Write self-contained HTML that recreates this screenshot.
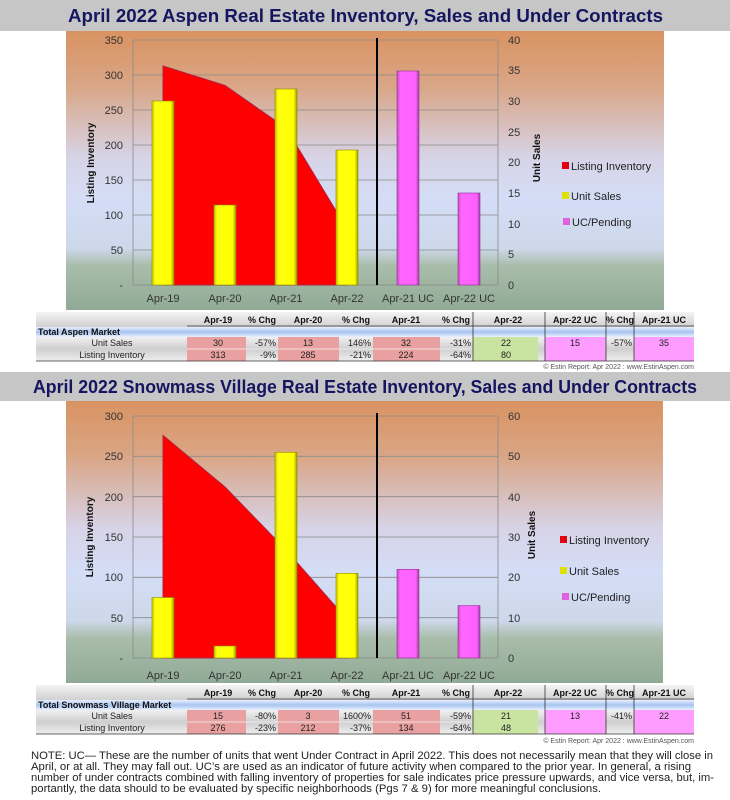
<!DOCTYPE html>
<html><head><meta charset="utf-8"><style>
body{margin:0;background:#fff;}
svg{display:block;font-family:"Liberation Sans",sans-serif;}
</style></head><body>
<svg width="730" height="800" viewBox="0 0 730 800" xmlns="http://www.w3.org/2000/svg">
<defs>
<linearGradient id="bg" x1="0" y1="0" x2="0" y2="1">
<stop offset="0" stop-color="#d99361"/><stop offset="0.2" stop-color="#d9a687"/><stop offset="0.45" stop-color="#d7d3e6"/><stop offset="0.6" stop-color="#d4ddf6"/><stop offset="0.78" stop-color="#cdd8ea"/><stop offset="0.84" stop-color="#a9bdaa"/><stop offset="1" stop-color="#90aa96"/>
</linearGradient>
<linearGradient id="yel" x1="0" y1="0" x2="1" y2="0"><stop offset="0" stop-color="#c8c800"/><stop offset="0.15" stop-color="#ffff10"/><stop offset="0.85" stop-color="#ffff00"/><stop offset="1" stop-color="#9a9a00"/></linearGradient>
<linearGradient id="pnk" x1="0" y1="0" x2="1" y2="0"><stop offset="0" stop-color="#c050c0"/><stop offset="0.15" stop-color="#ff66ff"/><stop offset="0.85" stop-color="#ff60ff"/><stop offset="1" stop-color="#a040a0"/></linearGradient>
<linearGradient id="hdr" x1="0" y1="0" x2="0" y2="1"><stop offset="0" stop-color="#f4f4f4"/><stop offset="1" stop-color="#d0d0d0"/></linearGradient>
<linearGradient id="blu" x1="0" y1="0" x2="0" y2="1"><stop offset="0" stop-color="#e8f0ff"/><stop offset="0.5" stop-color="#a8c4ee"/><stop offset="1" stop-color="#e8f0ff"/></linearGradient>
<linearGradient id="gry" x1="0" y1="0" x2="0" y2="1"><stop offset="0" stop-color="#f0f0f0"/><stop offset="0.5" stop-color="#cfcfcf"/><stop offset="1" stop-color="#eeeeee"/></linearGradient>
</defs>

<!-- ===== Chart 1 ===== -->
<rect x="0" y="0" width="730" height="31" fill="#c6c6c6"/>
<text x="68" y="22" textLength="595" lengthAdjust="spacingAndGlyphs" font-size="18" font-weight="bold" fill="#151560">April 2022 Aspen Real Estate Inventory, Sales and Under Contracts</text>
<rect x="66" y="31" width="598" height="279" fill="url(#bg)"/>
<g stroke="#8a8a8a" stroke-width="0.8">
<line x1="133" y1="40" x2="498" y2="40"/><line x1="133" y1="75" x2="498" y2="75"/><line x1="133" y1="110" x2="498" y2="110"/><line x1="133" y1="145" x2="498" y2="145"/><line x1="133" y1="180" x2="498" y2="180"/><line x1="133" y1="215" x2="498" y2="215"/><line x1="133" y1="250" x2="498" y2="250"/>
<line x1="133" y1="40" x2="133" y2="285"/><line x1="498" y1="40" x2="498" y2="285"/><line x1="133" y1="285" x2="498" y2="285"/>
</g>
<polygon points="163,66 225,85.5 286,128 347,229 347,285 163,285" fill="#ff0000" stroke="#b02040" stroke-width="1"/>
<g fill="url(#yel)" stroke="#8a8a00" stroke-width="0.6">
<rect x="152" y="101" width="22" height="184"/><rect x="214" y="205" width="22" height="80"/><rect x="275" y="89" width="22" height="196"/><rect x="336" y="150" width="22" height="135"/>
</g>
<g fill="url(#pnk)" stroke="#903090" stroke-width="0.6">
<rect x="397" y="71" width="22" height="214"/><rect x="458" y="193" width="22" height="92"/>
</g>
<line x1="377" y1="38" x2="377" y2="285" stroke="#000" stroke-width="2"/>
<g font-size="11" fill="#333" text-anchor="end">
<text x="123" y="44">350</text><text x="123" y="79">300</text><text x="123" y="114">250</text><text x="123" y="149">200</text><text x="123" y="184">150</text><text x="123" y="219">100</text><text x="123" y="254">50</text><text x="123" y="289">-</text>
</g>
<g font-size="11" fill="#333">
<text x="508" y="44">40</text><text x="508" y="74">35</text><text x="508" y="105">30</text><text x="508" y="136">25</text><text x="508" y="166">20</text><text x="508" y="197">15</text><text x="508" y="228">10</text><text x="508" y="258">5</text><text x="508" y="289">0</text>
</g>
<g font-size="11" fill="#333" text-anchor="middle">
<text x="163" y="302">Apr-19</text><text x="225" y="302">Apr-20</text><text x="286" y="302">Apr-21</text><text x="347" y="302">Apr-22</text><text x="408" y="302">Apr-21 UC</text><text x="469" y="302">Apr-22 UC</text>
</g>
<text transform="translate(94,163) rotate(-90)" font-size="10" font-weight="bold" text-anchor="middle" fill="#111">Listing Inventory</text>
<text transform="translate(540,158) rotate(-90)" font-size="10" font-weight="bold" text-anchor="middle" fill="#111">Unit Sales</text>
<g font-size="11" fill="#222">
<rect x="562" y="162" width="7" height="7" fill="#e00010"/><text x="571" y="170">Listing Inventory</text>
<rect x="562" y="192" width="7" height="7" fill="#e0e000"/><text x="571" y="200">Unit Sales</text>
<rect x="563" y="218" width="7" height="7" fill="#e060e0"/><text x="572" y="226">UC/Pending</text>
</g>

<!-- Table 1 -->
<g font-size="9" font-family="Liberation Sans Narrow,Liberation Sans,sans-serif">
<rect x="36" y="312" width="658" height="15" fill="url(#hdr)"/>
<line x1="187" y1="326" x2="694" y2="326" stroke="#333" stroke-width="0.8"/>
<rect x="36" y="327" width="658" height="10" fill="url(#blu)"/>
<rect x="36" y="337" width="658" height="24" fill="url(#gry)"/>
<rect x="187" y="337" width="59" height="24" fill="#e8a0a0"/><rect x="278" y="337" width="61" height="24" fill="#e8a0a0"/><rect x="373" y="337" width="67" height="24" fill="#e8a0a0"/>
<rect x="473" y="337" width="65" height="24" fill="#c8e4a0"/>
<rect x="545" y="337" width="61" height="24" fill="#ff9cff"/><rect x="634" y="337" width="60" height="24" fill="#ff9cff"/>
<line x1="187" y1="349" x2="473" y2="349" stroke="#f4f4f4" stroke-width="0.8"/>
<g stroke="#333" stroke-width="0.8"><line x1="473" y1="312" x2="473" y2="361"/><line x1="545" y1="312" x2="545" y2="361"/><line x1="606" y1="312" x2="606" y2="361"/><line x1="634" y1="312" x2="634" y2="361"/><line x1="36" y1="361" x2="694" y2="361"/></g>
<g font-weight="bold" fill="#111" text-anchor="middle">
<text x="218" y="323">Apr-19</text><text x="262" y="323">% Chg</text><text x="308" y="323">Apr-20</text><text x="356" y="323">% Chg</text><text x="406" y="323">Apr-21</text><text x="456" y="323">% Chg</text><text x="508" y="323">Apr-22</text><text x="575" y="323">Apr-22 UC</text><text x="620" y="323">% Chg</text><text x="664" y="323">Apr-21 UC</text>
</g>
<text x="38" y="335" font-weight="bold" fill="#111">Total Aspen Market</text>
<g fill="#222" text-anchor="middle">
<text x="112" y="346">Unit Sales</text><text x="112" y="358">Listing Inventory</text>
<text x="218" y="346">30</text><text x="308" y="346">13</text><text x="406" y="346">32</text><text x="506" y="346">22</text><text x="575" y="346">15</text><text x="664" y="346">35</text>
<text x="218" y="358">313</text><text x="308" y="358">285</text><text x="406" y="358">224</text><text x="506" y="358">80</text>
</g>
<g fill="#222" text-anchor="end">
<text x="276" y="346">-57%</text><text x="371" y="346">146%</text><text x="471" y="346">-31%</text><text x="632" y="346">-57%</text>
<text x="276" y="358">-9%</text><text x="371" y="358">-21%</text><text x="471" y="358">-64%</text>
</g>
<text x="694" y="369" font-size="7" fill="#555" text-anchor="end">© Estin Report:  Apr 2022 : www.EstinAspen.com</text>
</g>

<!-- ===== Chart 2 ===== -->
<rect x="0" y="372" width="730" height="29" fill="#c6c6c6"/>
<text x="33" y="393" textLength="664" lengthAdjust="spacingAndGlyphs" font-size="18" font-weight="bold" fill="#151560">April 2022 Snowmass Village Real Estate Inventory, Sales and Under Contracts</text>
<rect x="66" y="401" width="597" height="282" fill="url(#bg)"/>
<g stroke="#8a8a8a" stroke-width="0.8">
<line x1="133" y1="416" x2="498" y2="416"/><line x1="133" y1="456.3" x2="498" y2="456.3"/><line x1="133" y1="496.7" x2="498" y2="496.7"/><line x1="133" y1="537" x2="498" y2="537"/><line x1="133" y1="577.3" x2="498" y2="577.3"/><line x1="133" y1="617.7" x2="498" y2="617.7"/>
<line x1="133" y1="416" x2="133" y2="658"/><line x1="498" y1="416" x2="498" y2="658"/><line x1="133" y1="658" x2="498" y2="658"/>
</g>
<polygon points="163,435.4 225,487 286,550 347,619.3 347,658 163,658" fill="#ff0000" stroke="#b02040" stroke-width="1"/>
<g fill="url(#yel)" stroke="#8a8a00" stroke-width="0.6">
<rect x="152" y="597.5" width="22" height="60.5"/><rect x="214" y="646" width="22" height="12"/><rect x="275" y="452.3" width="22" height="205.7"/><rect x="336" y="573.3" width="22" height="84.7"/>
</g>
<g fill="url(#pnk)" stroke="#903090" stroke-width="0.6">
<rect x="397" y="569.3" width="22" height="88.7"/><rect x="458" y="605.6" width="22" height="52.4"/>
</g>
<line x1="377" y1="413" x2="377" y2="658" stroke="#000" stroke-width="2"/>
<g font-size="11" fill="#333" text-anchor="end">
<text x="123" y="420">300</text><text x="123" y="460">250</text><text x="123" y="501">200</text><text x="123" y="541">150</text><text x="123" y="581">100</text><text x="123" y="622">50</text><text x="123" y="662">-</text>
</g>
<g font-size="11" fill="#333">
<text x="508" y="420">60</text><text x="508" y="460">50</text><text x="508" y="501">40</text><text x="508" y="541">30</text><text x="508" y="581">20</text><text x="508" y="622">10</text><text x="508" y="662">0</text>
</g>
<g font-size="11" fill="#333" text-anchor="middle">
<text x="163" y="679">Apr-19</text><text x="225" y="679">Apr-20</text><text x="286" y="679">Apr-21</text><text x="347" y="679">Apr-22</text><text x="408" y="679">Apr-21 UC</text><text x="469" y="679">Apr-22 UC</text>
</g>
<text transform="translate(93,537) rotate(-90)" font-size="10" font-weight="bold" text-anchor="middle" fill="#111">Listing Inventory</text>
<text transform="translate(535,535) rotate(-90)" font-size="10" font-weight="bold" text-anchor="middle" fill="#111">Unit Sales</text>
<g font-size="11" fill="#222">
<rect x="560" y="536" width="7" height="7" fill="#e00010"/><text x="569" y="544">Listing Inventory</text>
<rect x="560" y="567" width="7" height="7" fill="#e0e000"/><text x="569" y="575">Unit Sales</text>
<rect x="562" y="593" width="7" height="7" fill="#e060e0"/><text x="571" y="601">UC/Pending</text>
</g>

<!-- Table 2 -->
<g font-size="9" font-family="Liberation Sans Narrow,Liberation Sans,sans-serif">
<rect x="36" y="685" width="658" height="15" fill="url(#hdr)"/>
<line x1="187" y1="699" x2="694" y2="699" stroke="#333" stroke-width="0.8"/>
<rect x="36" y="700" width="658" height="10" fill="url(#blu)"/>
<rect x="36" y="710" width="658" height="24" fill="url(#gry)"/>
<rect x="187" y="710" width="59" height="24" fill="#e8a0a0"/><rect x="278" y="710" width="61" height="24" fill="#e8a0a0"/><rect x="373" y="710" width="67" height="24" fill="#e8a0a0"/>
<rect x="473" y="710" width="65" height="24" fill="#c8e4a0"/>
<rect x="545" y="710" width="61" height="24" fill="#ff9cff"/><rect x="634" y="710" width="60" height="24" fill="#ff9cff"/>
<line x1="187" y1="722" x2="473" y2="722" stroke="#f4f4f4" stroke-width="0.8"/>
<g stroke="#333" stroke-width="0.8"><line x1="473" y1="685" x2="473" y2="734"/><line x1="545" y1="685" x2="545" y2="734"/><line x1="606" y1="685" x2="606" y2="734"/><line x1="634" y1="685" x2="634" y2="734"/><line x1="36" y1="734" x2="694" y2="734"/></g>
<g font-weight="bold" fill="#111" text-anchor="middle">
<text x="218" y="696">Apr-19</text><text x="262" y="696">% Chg</text><text x="308" y="696">Apr-20</text><text x="356" y="696">% Chg</text><text x="406" y="696">Apr-21</text><text x="456" y="696">% Chg</text><text x="508" y="696">Apr-22</text><text x="575" y="696">Apr-22 UC</text><text x="620" y="696">% Chg</text><text x="664" y="696">Apr-21 UC</text>
</g>
<text x="38" y="708" font-weight="bold" fill="#111">Total Snowmass Village Market</text>
<g fill="#222" text-anchor="middle">
<text x="112" y="719">Unit Sales</text><text x="112" y="731">Listing Inventory</text>
<text x="218" y="719">15</text><text x="308" y="719">3</text><text x="406" y="719">51</text><text x="506" y="719">21</text><text x="575" y="719">13</text><text x="664" y="719">22</text>
<text x="218" y="731">276</text><text x="308" y="731">212</text><text x="406" y="731">134</text><text x="506" y="731">48</text>
</g>
<g fill="#222" text-anchor="end">
<text x="276" y="719">-80%</text><text x="371" y="719">1600%</text><text x="471" y="719">-59%</text><text x="632" y="719">-41%</text>
<text x="276" y="731">-23%</text><text x="371" y="731">-37%</text><text x="471" y="731">-64%</text>
</g>
<text x="694" y="743" font-size="7" fill="#555" text-anchor="end">© Estin Report:  Apr 2022 : www.EstinAspen.com</text>
</g>

<g font-size="11" fill="#222">
<text x="31" y="759" textLength="682" lengthAdjust="spacingAndGlyphs">NOTE: UC— These are the number of units that went Under Contract in April 2022. This does not necessarily mean that they will close in</text>
<text x="31" y="770" textLength="660" lengthAdjust="spacingAndGlyphs">April, or at all. They may fall out. UC’s are used as an indicator of future activity when compared to the prior year. In general, a rising</text>
<text x="31" y="781" textLength="683" lengthAdjust="spacingAndGlyphs">number of under contracts combined with falling inventory of properties for sale indicates price pressure upwards, and vice versa, but, im-</text>
<text x="31" y="792" textLength="570" lengthAdjust="spacingAndGlyphs">portantly, the data should to be evaluated by specific neighborhoods (Pgs 7 &amp; 9) for more meaningful conclusions.</text>
</g>
</svg>
</body></html>
